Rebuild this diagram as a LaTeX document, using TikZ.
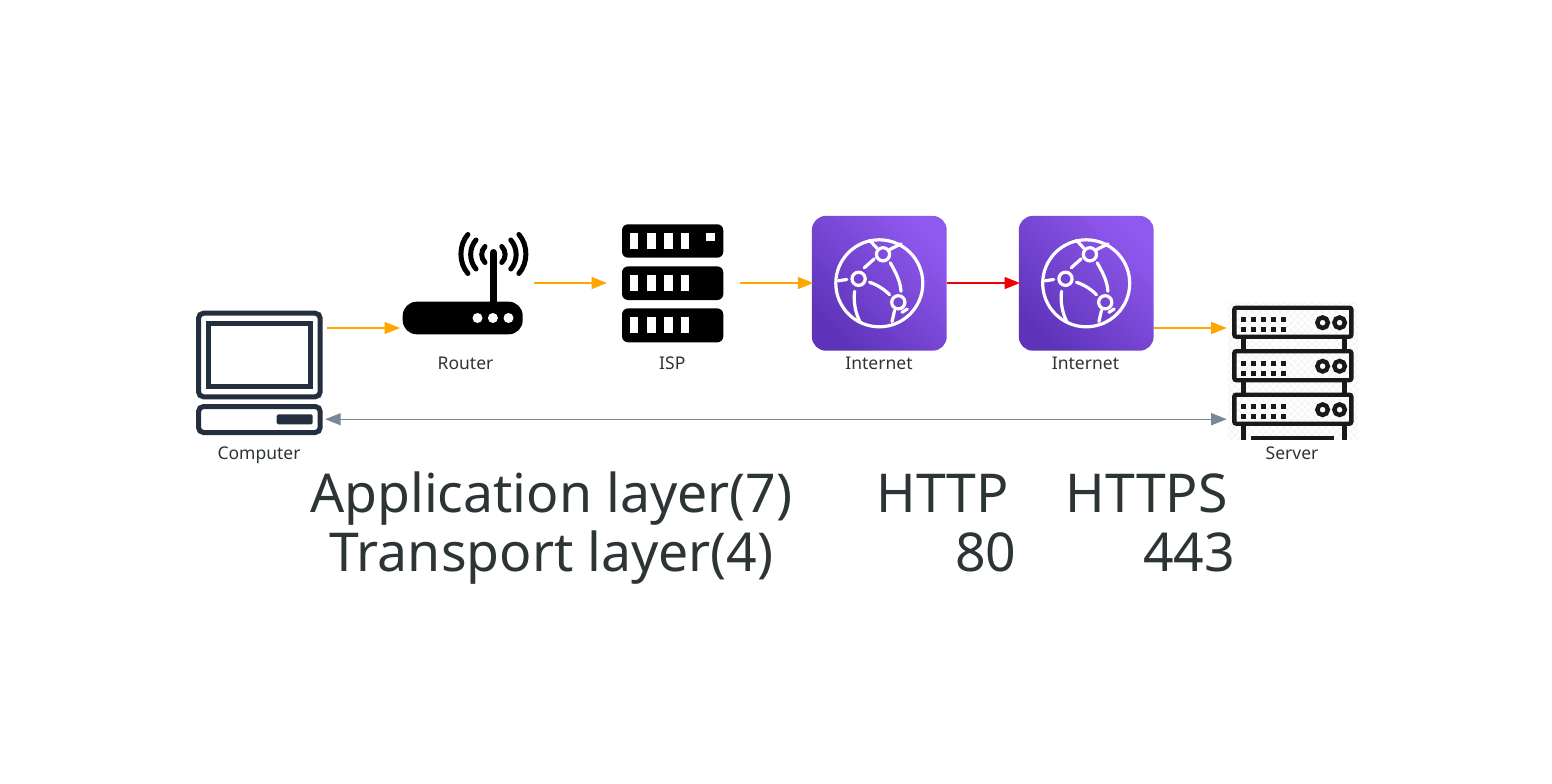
\documentclass[tikz,border=0pt]{standalone}
\usepackage{fontspec}
\setmainfont{Noto Sans}
\usetikzlibrary{arrows.meta,calc}
\definecolor{awsdark}{HTML}{232F3E}
\definecolor{orangeflow}{HTML}{FFA500}
\definecolor{redflow}{HTML}{F00000}
\definecolor{greyflow}{HTML}{7A8794}
\definecolor{labelink}{HTML}{2D3436}
\definecolor{purpleA}{HTML}{5E33B9}
\definecolor{purpleB}{HTML}{9059EE}
\definecolor{hatchgrey}{HTML}{F3F3F3}
\tikzset{
  x=1pt,y=-1pt,
  flow/.style={line width=1.5pt,-{Triangle[length=15.5pt,width=12pt]}},
  twoway/.style={line width=1.35pt,{Triangle[length=15.5pt,width=12pt]}-{Triangle[length=15.5pt,width=12pt]},color=greyflow},
  iconlabel/.style={anchor=base,inner sep=0pt,text=labelink,font=\fontsize{17.5pt}{21pt}\selectfont},
  bigline/.style={anchor=base west,inner sep=0pt,text=labelink,font=\fontsize{53.55pt}{60pt}\selectfont},
  iconbox/.style={inner sep=0pt,minimum width=#1},
  pcline/.style={draw=awsdark,line width=5pt,rounded corners=5pt},
  wave/.style={draw=black,line width=5pt,line cap=round},
  globeline/.style={draw=white,line width=3.2pt,line cap=round},
  srvline/.style={draw=black!90,line width=4.4pt},
  srvbox/.style={srvline,rounded corners=2pt},
  cloudicon/.pic={
    \shade[rounded corners=14pt,left color=purpleB,right color=purpleA,shading angle=-45] (-67.4,-67.4) rectangle (67.4,67.4);
    \draw[globeline] (0,0) circle (43.5);
    \draw[globeline] (3.7,-29) circle (6.6);
    \draw[globeline] (-20.7,-4.5) circle (6.6);
    \draw[globeline] (19,19) circle (6.6);
    \draw[globeline] (-41,-2.5) -- (-32.5,-3.8);
    \draw[globeline] (-15,-15.5) -- (-5,-24.5);
    \draw[globeline] (11,-20.5) .. controls (17,-10) and (21,-2) .. (21.7,8);
    \draw[globeline] (-9.7,-1) .. controls (-2,1.5) and (5,6) .. (10.3,11.5);
    \draw[globeline] (-24.7,8) .. controls (-26,18) and (-24,30) .. (-19,39);
    \draw[globeline] (-9.7,-43) -- (-2.3,-35);
    \draw[globeline] (10.3,-33.7) -- (21.7,-39.4);
    \draw[globeline] (15.3,27) -- (12.7,38.3);
    \draw[globeline] (22.7,29) -- (28,25.7);
  },
  srvunit/.pic={
    \draw[srvbox] (0,0) rectangle (117,29);
    \foreach \dx in {0,10,20,30,40} {
      \fill[black!90] ({9.3+\dx-2.4},9.6) rectangle ++(4.8,4.8);
      \fill[black!90] ({9.3+\dx-2.4},19.6) rectangle ++(4.8,4.8);
    }
    \draw[srvline] (88.3,15) circle (5.3);
    \draw[srvline] (105.3,15) circle (5.3);
  }
}
\begin{document}
\begin{tikzpicture}
\useasboundingbox (0,0) rectangle (1552,784);
\fill[white] (0,0) rectangle (1552,784);

% Computer
\node[iconbox=127,minimum height=125] (computer) at (259.3,372.7) {};
\draw[pcline] (198.5,313.2) rectangle (320.2,396.8);
\draw[draw=awsdark,line width=5pt] (208.5,323.2) rectangle (310.2,386.8);
\draw[pcline] (198.5,406.5) rectangle (320.2,432.5);
\fill[awsdark,rounded corners=1.5pt] (276.7,414.3) rectangle (312.7,424.3);
\node[iconlabel] (computerlabel) at (259,459.1) {Computer};

% Router
\node[iconbox=120,minimum height=85] (router) at (463,292) {};
\fill[black,rounded corners=14pt] (402.7,301.7) rectangle (522.7,334.3);
\draw[black,line width=7pt,line cap=round] (493.4,252.5) -- (493.4,303);
\fill[white] (477.5,318) circle (5) (492.9,318) circle (5) (508.5,318) circle (5);
\foreach \sx in {1,-1} {
  \begin{scope}[shift={(493.4,0)},xscale=\sx]
    \draw[wave] (-25.5,234.5) .. controls (-34.8,245) and (-34.8,263) .. (-25.5,273.5);
    \draw[wave] (-17.4,240) .. controls (-24.5,248) and (-24.5,261) .. (-17.4,269);
    \draw[wave] (-8.4,246.5) .. controls (-12.8,251) and (-12.8,258) .. (-8.4,262.5);
  \end{scope}
}
\node[iconlabel] (routerlabel) at (465.5,369.8) {Router};

% ISP
\node[iconbox=101,minimum height=118] (isp) at (672.6,283.3) {};
\fill[black,rounded corners=6pt] (622,224.3) rectangle (723.3,257.7);
\fill[black,rounded corners=6pt] (622,266.4) rectangle (723.3,300);
\fill[black,rounded corners=6pt] (622,308.4) rectangle (723.3,342.3);
\foreach \by in {232.7,274.8,316.8} {
  \foreach \bx in {630,647.2,664.2,681} {
    \fill[white] (\bx,\by) rectangle ++(8.4,16.6);
  }
}
\fill[white] (706.3,232.7) rectangle (714.7,241);
\node[iconlabel] (isplabel) at (672.3,369.8) {ISP};

% Internet
\pic (cloudone) at (879.3,283.3) {cloudicon};
\node[iconbox=135,minimum height=135] (internetone) at (879.3,283.3) {};
\node[iconlabel] (internetonelabel) at (879,369.8) {Internet};
\pic (cloudtwo) at (1086.2,283.3) {cloudicon};
\node[iconbox=135,minimum height=135] (internettwo) at (1086.2,283.3) {};
\node[iconlabel] (internettwolabel) at (1085.5,369.8) {Internet};

% Server
\node[iconbox=125,minimum height=135] (server) at (1292.8,372.5) {};
\begin{scope}
  \clip (1228,302) rectangle (1358,439.6);
  \foreach \k in {0,7,...,280} {
    \draw[hatchgrey,line width=0.8pt] ({1228+\k-140},302) -- ++(140,140);
    \draw[hatchgrey,line width=0.8pt] ({1228+\k},302) -- ++(-140,140);
  }
  \draw[srvline] (1243.4,338) -- (1243.4,350) (1344.3,338) -- (1344.3,350);
  \draw[srvline] (1243.4,381) -- (1243.4,393) (1344.3,381) -- (1344.3,393);
  \draw[srvline] (1243.4,425) -- (1243.4,445) (1344.3,425) -- (1344.3,445);
  \fill[black!90] (1251,436) rectangle (1334.3,445);
\end{scope}
\pic at (1234.3,307.7) {srvunit};
\pic at (1234.3,351.2) {srvunit};
\pic at (1234.3,394.7) {srvunit};
\node[iconlabel] (serverlabel) at (1292,459.1) {Server};

% Connector ends
\coordinate (computerout) at (327,328);
\coordinate (routerin) at (400,328);
\coordinate (routerout) at (533.5,283);
\coordinate (ispin) at (607,283);
\coordinate (ispout) at (740,283);
\coordinate (cloudonein) at (813.3,283);
\coordinate (cloudoneout) at (947,283);
\coordinate (cloudtwoin) at (1020,283);
\coordinate (cloudtwoout) at (1154,328);
\coordinate (serverin) at (1226.7,328);
\coordinate (computerback) at (325.2,419.2);
\coordinate (serverback) at (1226.7,419.2);

\draw[flow,color=orangeflow] (computerout) -- (routerin);
\draw[flow,color=orangeflow] (routerout) -- (ispin);
\draw[flow,color=orangeflow] (ispout) -- (cloudonein);
\draw[flow,color=redflow] (cloudoneout) -- (cloudtwoin);
\draw[flow,color=orangeflow] (cloudtwoout) -- (serverin);
\draw[twoway] (computerback) -- (serverback);

% Caption
\node[bigline] (captionone) at (310,512.6) {Application layer(7)\hspace*{84pt}HTTP\hspace*{56.5pt}HTTPS};
\node[bigline] (captiontwo) at (329.5,571.5) {Transport layer(4)\hspace*{181.5pt}80\hspace*{127pt}443};
\end{tikzpicture}
\end{document}
